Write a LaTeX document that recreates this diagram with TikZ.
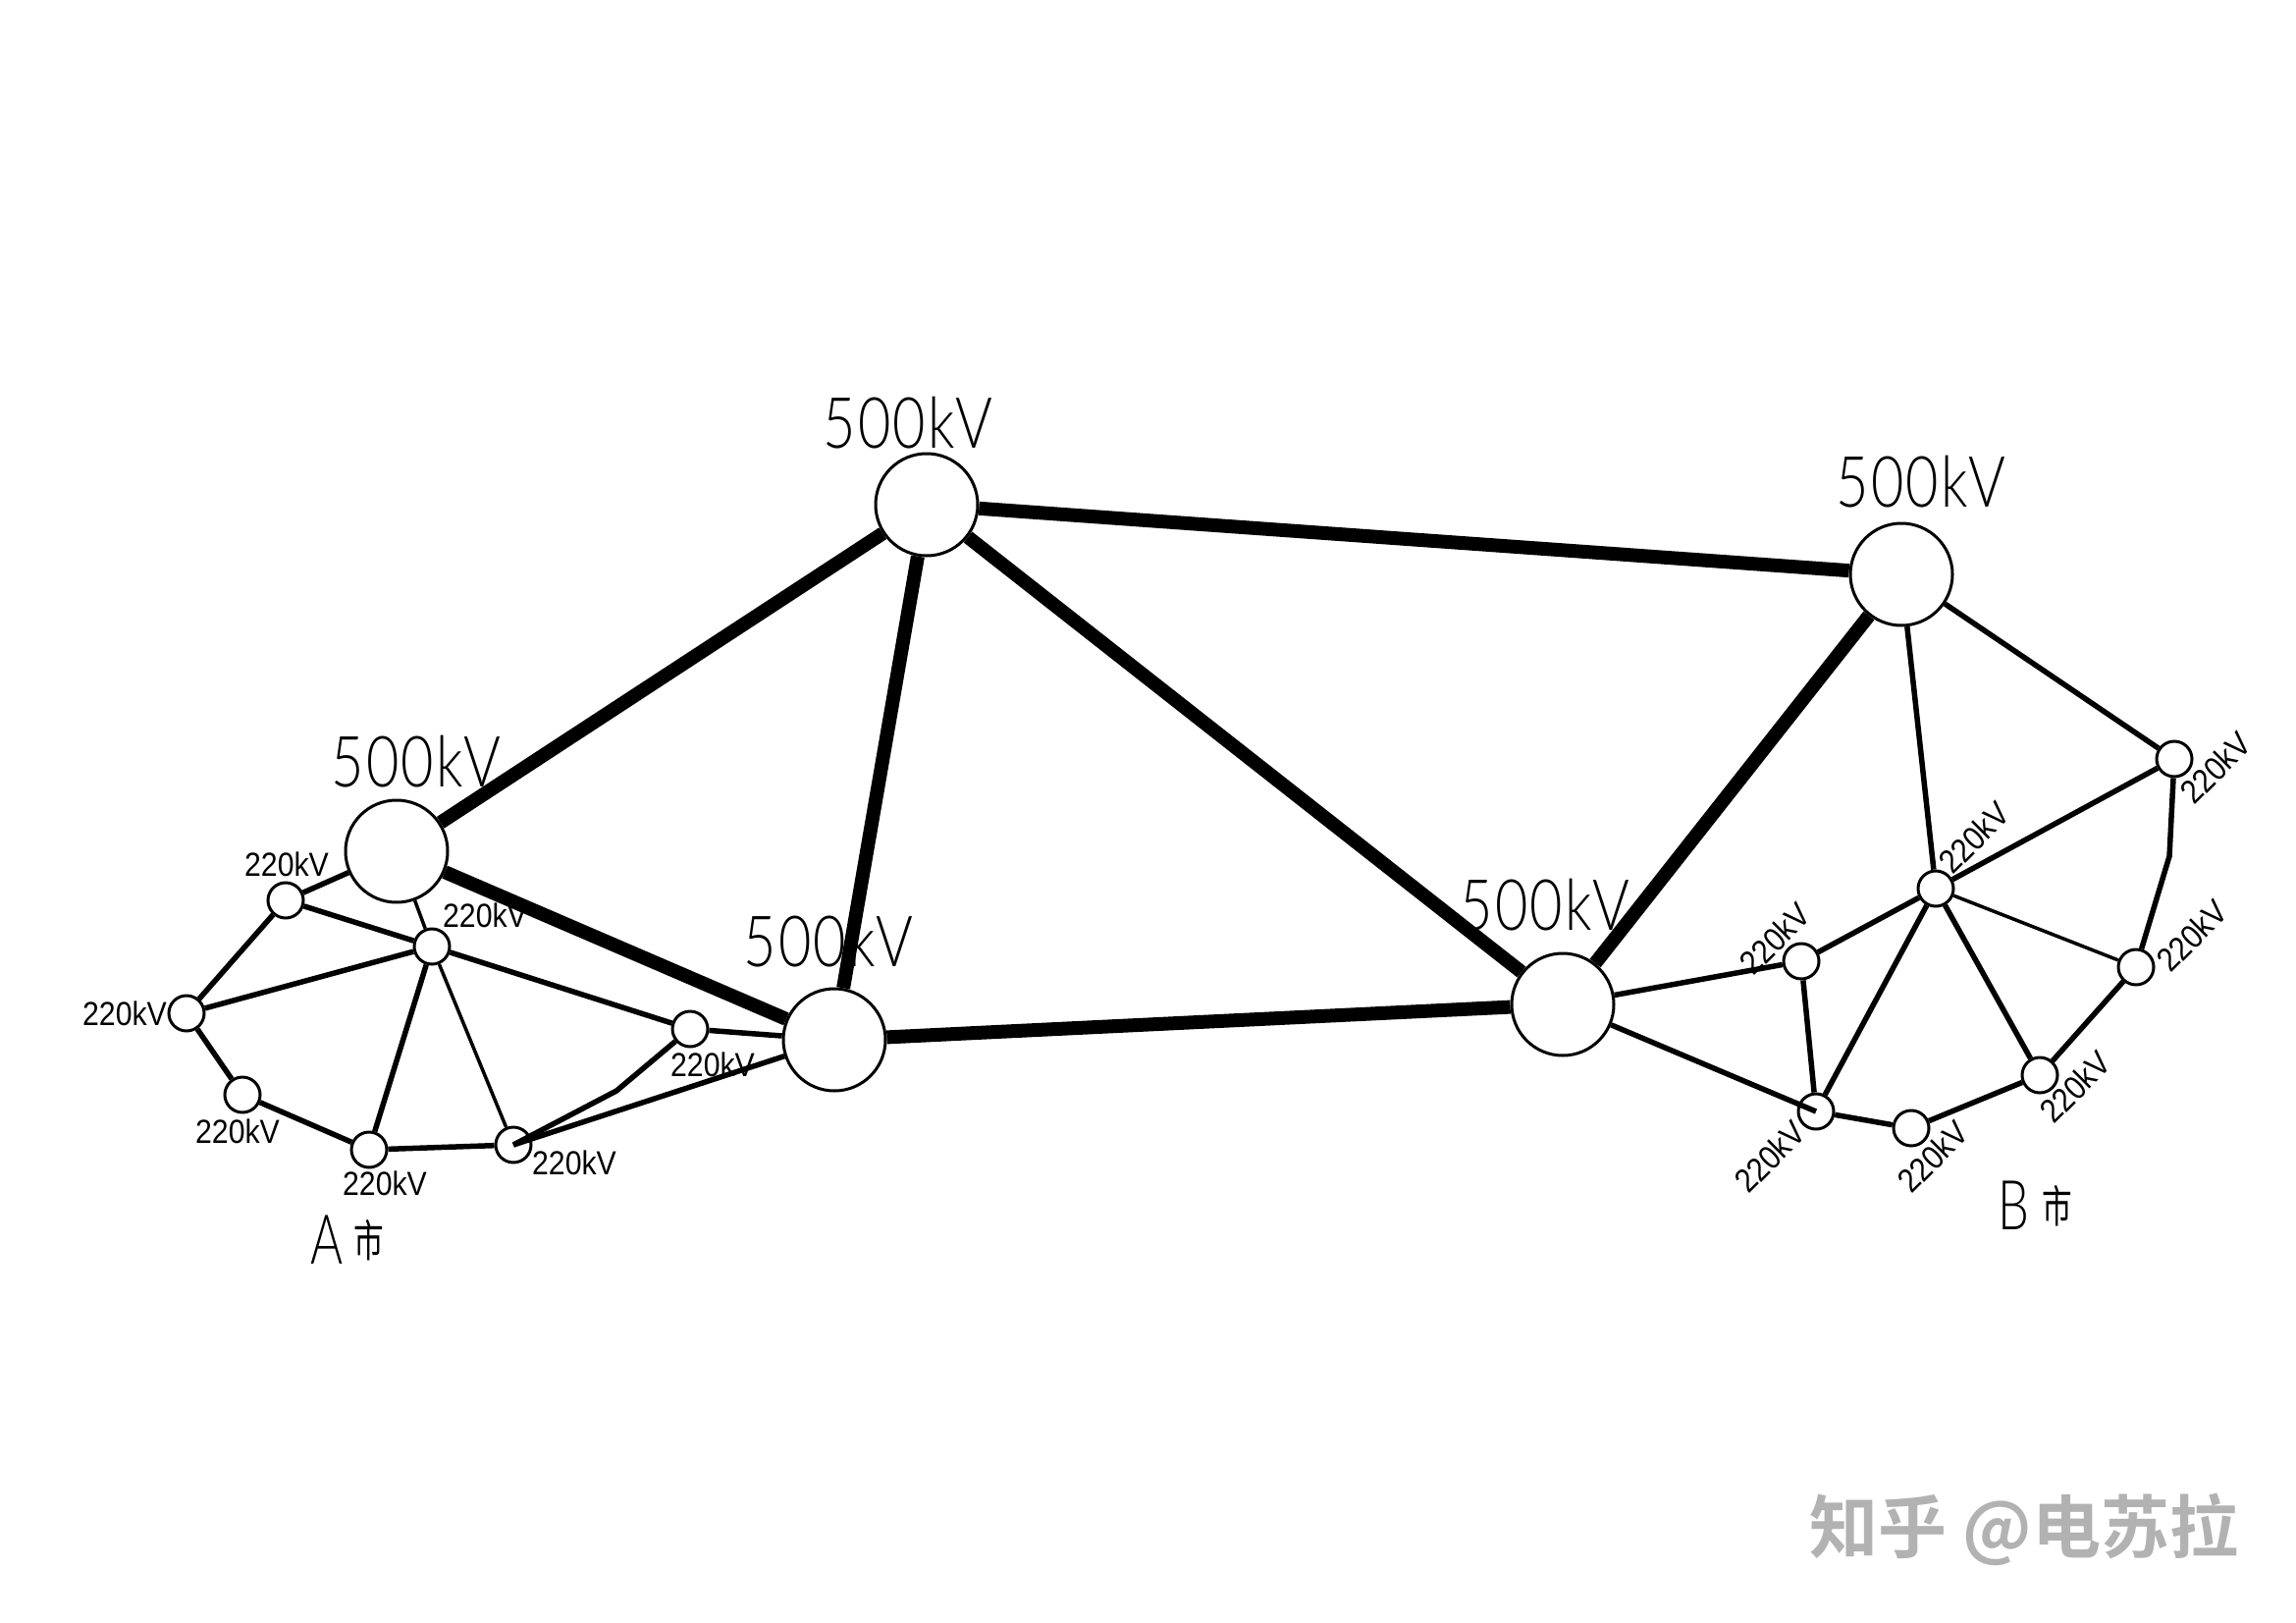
\documentclass[tikz,border=0pt]{standalone}
\usepackage{fontspec}
\setmainfont{Liberation Sans}
\newfontfamily\bigfont[FakeStretch=0.80,LetterSpace=3]{Lato Light}
\newfontfamily\smallfont[FakeStretch=0.89]{Liberation Sans}
\newfontfamily\letterfont[FakeStretch=0.72]{Lato Light}
\newfontfamily\cityfont[FakeStretch=0.68]{Noto Sans CJK SC}
\newfontfamily\markfont[BoldFont={Noto Sans CJK SC Bold}]{Noto Sans CJK SC}
\tikzset{
  bigst/.style={circle,draw,line width=3pt,fill=white,minimum size=104pt,inner sep=0pt},
  smallst/.style={circle,draw,line width=3pt,fill=white,minimum size=36pt,inner sep=0pt},
  heavy/.style={line width=14pt},
  mid/.style={line width=5.5pt},
  fine/.style={line width=3.5pt},
  biglabel/.style={font=\bigfont\fontsize{72}{72}\selectfont,inner sep=0pt},
  smalllabel/.style={font=\smallfont\fontsize{34}{34}\selectfont,inner sep=0pt},
  tiltlabel/.style={smalllabel,rotate=45},
  letterlabel/.style={font=\letterfont\fontsize{70}{70}\selectfont,inner sep=0pt},
  citylabel/.style={font=\cityfont\fontsize{45}{45}\selectfont,inner sep=0pt},
}
\begin{document}
\begin{tikzpicture}[x=1pt,y=-1pt]
\useasboundingbox (0,0) rectangle (2339,1653);
\fill[white] (0,0) rectangle (2339,1653);
% large stations
\node[bigst] (T) at (944,514) {};
\node[bigst] (R) at (1937,585) {};
\node[bigst] (AL) at (404,867) {};
\node[bigst] (AC) at (850,1059) {};
\node[bigst] (BC) at (1592,1023) {};
% city A stations
\node[smallst] (a1) at (291,917) {};
\node[smallst] (a2) at (440,964) {};
\node[smallst] (a3) at (190,1032) {};
\node[smallst] (a4) at (247,1115) {};
\node[smallst] (a5) at (376,1171) {};
\node[smallst] (a6) at (523,1166) {};
\node[smallst] (a7) at (703,1048) {};
\coordinate (abend) at (628,1111);
% city B stations
\node[smallst] (b1) at (2215,773) {};
\node[smallst] (b2) at (1972,905) {};
\node[smallst] (b3) at (1835,979) {};
\node[smallst] (b4) at (2176,985) {};
\node[smallst] (b5) at (2078,1095) {};
\node[smallst] (b6) at (1947,1149) {};
\node[smallst] (b7) at (1850,1132) {};
\coordinate (bbend) at (2210,872);
% 500 kV lines
\draw[heavy] (AL) -- (T);
\draw[heavy] (T) -- (AC);
\draw[heavy] (T) -- (BC);
\draw[heavy] (T) -- (R);
\draw[heavy] (R) -- (BC);
\draw[heavy] (AL) -- (AC);
\draw[heavy] (AC) -- (BC);
% city A lines
\draw[mid] (AL) -- (a1);
\draw[mid] (a1) -- (a2);
\draw[fine] (AL) -- (a2);
\draw[mid] (a1) -- (a3);
\draw[mid] (a2) -- (a3);
\draw[mid] (a3) -- (a4);
\draw[mid] (a4) -- (a5);
\draw[mid] (a5) -- (a2);
\draw[mid] (a5) -- (a6);
\draw[fine] (a6) -- (a2);
\draw[mid] (a2) -- (a7);
\draw[mid] (a7) -- (AC);
\draw[mid] (a7) -- (abend) -- (a6.center);
\draw[mid] (a6.center) -- (AC);
% city B lines
\draw[mid] (R) -- (b2);
\draw[mid] (R) -- (b1);
\draw[mid] (b1) -- (b2);
\draw[mid] (b1) -- (bbend) -- (b4);
\draw[fine] (b2) -- (b4);
\draw[mid] (b4) -- (b5);
\draw[mid] (b2) -- (b5);
\draw[mid] (b5) -- (b6);
\draw[mid] (b6) -- (b7);
\draw[mid] (b7) -- (b2);
\draw[mid] (b3) -- (b7);
\draw[mid] (b3) -- (b2);
\draw[mid] (BC) -- (b3);
\draw[mid] (BC) -- (b7.center);
% labels
\node[biglabel] (lT) at (925,431) {500kV};
\node[biglabel] (lR) at (1957,491) {500kV};
\node[biglabel] (lAL) at (424,776) {500kV};
\node[biglabel] (lAC) at (844,959) {500kV};
\node[biglabel] (lBC) at (1574,922) {500kV};
\node[smalllabel] (la1) at (292,880) {220kV};
\node[smalllabel] (la2) at (494,932) {220kV};
\node[smalllabel] (la3) at (127,1032) {220kV};
\node[smalllabel] (la4) at (242,1152) {220kV};
\node[smalllabel] (la5) at (392,1205) {220kV};
\node[smalllabel] (la6) at (585,1184) {220kV};
\node[smalllabel] (la7) at (726,1084) {220kV};
\node[tiltlabel] (lb3) at (1808,956) {220kV};
\node[tiltlabel] (lb2) at (2011,853) {220kV};
\node[tiltlabel] (lb1) at (2257,782) {220kV};
\node[tiltlabel] (lb4) at (2233,953) {220kV};
\node[tiltlabel] (lb5) at (2114,1107) {220kV};
\node[tiltlabel] (lb6) at (1969,1178) {220kV};
\node[tiltlabel] (lb7) at (1803,1178) {220kV};
\node[letterlabel] (ca) at (333,1263) {A};
\node[citylabel] (cas) at (376,1263) {市};
\node[letterlabel] (cb) at (2051,1228) {B};
\node[citylabel] (cbs) at (2096,1228) {市};
\node[font=\markfont\bfseries\fontsize{70}{70}\selectfont,text=black!30,inner sep=0pt] (mark) at (2062,1558) {知乎 @电苏拉};
\end{tikzpicture}
\end{document}
